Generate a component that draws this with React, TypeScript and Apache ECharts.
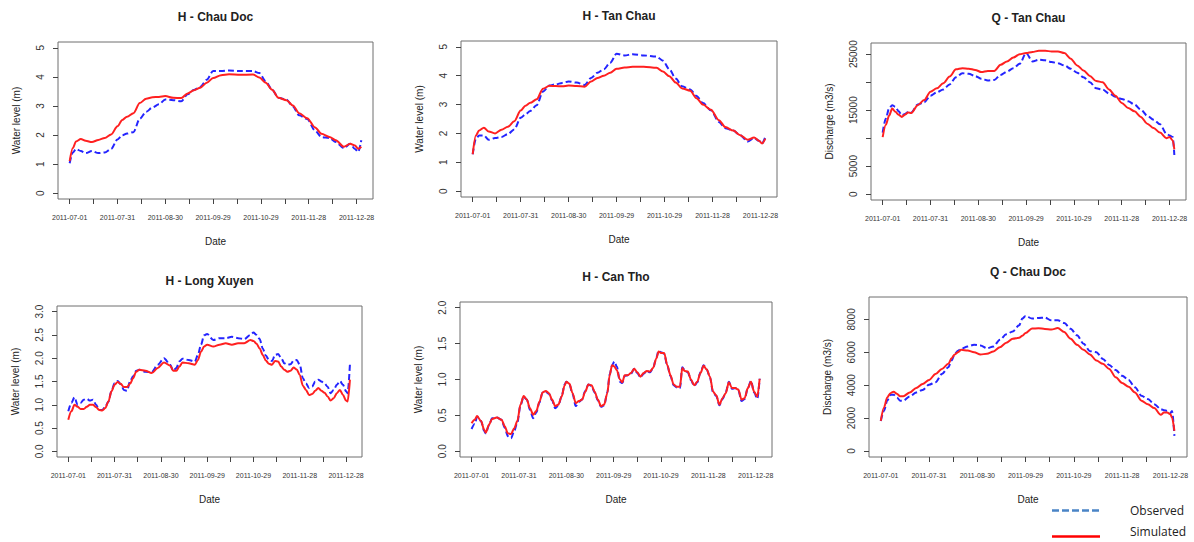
import React, { useEffect, useRef } from "react";
import * as echarts from "echarts";

// ---------- data (days since 2011-07-01) ----------
const START_MS = Date.UTC(2011, 6, 1);
const tickDays = [0, 15, 30, 45, 60, 75, 90, 105, 120, 135, 150, 165, 180];
const labelDays = [0, 30, 60, 90, 120, 150, 180];

const dayGridA = [0, 2, 4, 7, 10, 14, 18, 22, 26, 30, 33, 36, 40, 44, 48, 52, 56, 60, 65, 70, 74, 78, 82, 86, 90, 95, 100, 107, 115, 119, 123, 127, 131, 136, 140, 144, 149, 154, 158, 163, 167, 172, 176, 179, 181, 183];

const hChauDocSim = [1.10, 1.55, 1.78, 1.86, 1.80, 1.76, 1.83, 1.90, 2.02, 2.30, 2.52, 2.63, 2.75, 3.10, 3.25, 3.30, 3.31, 3.34, 3.28, 3.27, 3.43, 3.54, 3.63, 3.80, 3.96, 4.06, 4.09, 4.07, 4.08, 3.98, 3.80, 3.56, 3.28, 3.20, 3.02, 2.75, 2.58, 2.26, 2.04, 1.93, 1.82, 1.60, 1.70, 1.64, 1.53, 1.60];
const hChauDocObs = [1.03, 1.40, 1.52, 1.45, 1.38, 1.45, 1.38, 1.40, 1.52, 1.85, 1.99, 2.05, 2.10, 2.56, 2.80, 2.95, 3.06, 3.22, 3.20, 3.16, 3.40, 3.55, 3.66, 3.90, 4.20, 4.20, 4.22, 4.20, 4.20, 4.13, 3.85, 3.56, 3.28, 3.22, 2.98, 2.68, 2.55, 2.15, 1.93, 1.90, 1.76, 1.55, 1.70, 1.52, 1.42, 1.82];

const hTanChauSim = [1.28, 1.93, 2.10, 2.20, 2.07, 2.00, 2.13, 2.23, 2.42, 2.79, 2.96, 3.06, 3.18, 3.55, 3.65, 3.64, 3.63, 3.66, 3.64, 3.62, 3.80, 3.92, 4.00, 4.10, 4.24, 4.28, 4.31, 4.31, 4.27, 4.14, 3.98, 3.76, 3.56, 3.48, 3.22, 3.00, 2.82, 2.46, 2.22, 2.10, 1.95, 1.78, 1.86, 1.75, 1.65, 1.82];
const hTanChauObs = [1.28, 1.82, 1.93, 1.93, 1.78, 1.84, 1.88, 1.98, 2.14, 2.54, 2.66, 2.78, 2.98, 3.45, 3.66, 3.70, 3.75, 3.80, 3.76, 3.68, 3.92, 4.10, 4.22, 4.45, 4.76, 4.70, 4.74, 4.70, 4.66, 4.52, 4.22, 3.90, 3.63, 3.52, 3.30, 3.05, 2.80, 2.40, 2.18, 2.10, 1.95, 1.72, 1.84, 1.75, 1.65, 1.88];

const dayGridQTC = [0, 2, 4, 6, 8, 10, 12, 14, 16, 18, 22, 26, 30, 34, 38, 42, 46, 50, 54, 58, 62, 66, 70, 74, 78, 82, 86, 90, 94, 98, 102, 106, 110, 114, 118, 122, 126, 130, 134, 138, 142, 146, 150, 154, 158, 162, 166, 170, 174, 178, 180, 182, 183];
const qTanChauSim = [10200, 12400, 14000, 15300, 14700, 14200, 13800, 14200, 14600, 14500, 15900, 16800, 18300, 18900, 19800, 21000, 22300, 22500, 22400, 22200, 21800, 22000, 22000, 23100, 23700, 24400, 25000, 25200, 25400, 25600, 25600, 25500, 25500, 25200, 24200, 23000, 22100, 21100, 20200, 20000, 18700, 17600, 16300, 15400, 14800, 13800, 12600, 11800, 11000, 10000, 10200, 9600, 8000];
const qTanChauObs = [11000, 13500, 15300, 15900, 15600, 14800, 14100, 14300, 14700, 14600, 16000, 16400, 17600, 18200, 18700, 19600, 20900, 21600, 21500, 21100, 20600, 20300, 20400, 21300, 21900, 22500, 23300, 25200, 23700, 24000, 23900, 23600, 23400, 23000, 22400, 21700, 20900, 20000, 18900, 18700, 18000, 17400, 17000, 16600, 16000, 15100, 14000, 13300, 12500, 10800, 10500, 10200, 7000];

const dayGridLX = [0, 2, 4, 6, 8, 10, 12, 14, 16, 18, 20, 22, 24, 26, 28, 30, 32, 34, 36, 38, 40, 42, 44, 46, 50, 54, 58, 62, 66, 68, 70, 72, 74, 78, 82, 84, 86, 88, 90, 94, 98, 102, 106, 110, 114, 118, 120, 122, 124, 126, 128, 130, 132, 134, 136, 138, 140, 142, 144, 146, 148, 150, 152, 154, 156, 158, 160, 162, 164, 166, 168, 170, 172, 174, 176, 178, 180, 181, 182.5];
const hLongXuyenSim = [0.68, 0.86, 1.0, 0.96, 0.91, 0.91, 0.96, 1.0, 1.0, 0.95, 0.89, 0.88, 0.93, 1.07, 1.29, 1.43, 1.49, 1.45, 1.38, 1.38, 1.45, 1.57, 1.71, 1.75, 1.73, 1.68, 1.79, 1.91, 1.84, 1.73, 1.73, 1.82, 1.91, 1.89, 1.86, 1.96, 2.14, 2.25, 2.29, 2.25, 2.29, 2.32, 2.29, 2.32, 2.32, 2.39, 2.37, 2.31, 2.21, 2.07, 1.95, 1.88, 1.86, 1.94, 1.93, 1.82, 1.75, 1.71, 1.73, 1.80, 1.76, 1.64, 1.41, 1.32, 1.21, 1.23, 1.30, 1.36, 1.30, 1.26, 1.18, 1.09, 1.14, 1.25, 1.32, 1.21, 1.09, 1.07, 1.54];
const hLongXuyenObs = [0.86, 1.04, 1.16, 1.0, 1.04, 1.11, 1.13, 1.09, 1.11, 1.0, 0.89, 0.89, 0.96, 1.07, 1.30, 1.46, 1.51, 1.44, 1.32, 1.30, 1.50, 1.61, 1.73, 1.75, 1.71, 1.70, 1.86, 2.0, 1.86, 1.73, 1.79, 1.93, 1.99, 1.96, 1.93, 2.07, 2.29, 2.49, 2.52, 2.39, 2.43, 2.43, 2.46, 2.43, 2.41, 2.50, 2.55, 2.50, 2.41, 2.21, 2.06, 1.96, 1.94, 2.07, 2.09, 2.0, 1.89, 1.86, 1.87, 1.95, 1.96, 1.86, 1.57, 1.46, 1.36, 1.39, 1.50, 1.54, 1.50, 1.46, 1.39, 1.25, 1.32, 1.43, 1.51, 1.43, 1.29, 1.25, 1.87];

const dayGridCT = [0, 2, 3.5, 6, 8, 9, 11, 13, 16, 19, 21, 23, 25, 27, 29, 31, 33, 35, 37, 39, 41, 43, 45, 47, 49, 51, 53, 55, 57, 59, 60, 62, 64, 66, 68, 70, 72, 74, 76, 78, 80, 82, 84, 86, 87.5, 89, 90.5, 92, 94, 95.5, 97, 99, 101, 103, 105, 107, 109, 111, 113, 115, 117, 118.5, 120, 122, 124, 126, 128, 130, 132, 133.5, 135, 137, 139, 141, 143, 145, 147, 149, 151, 153, 155, 157, 159, 161, 163, 165, 167, 169, 171, 173, 175, 177, 179, 181, 182.5];
const hCanThoSim = [0.39, 0.44, 0.49, 0.42, 0.30, 0.26, 0.37, 0.45, 0.47, 0.44, 0.35, 0.25, 0.24, 0.32, 0.42, 0.65, 0.77, 0.72, 0.60, 0.51, 0.56, 0.69, 0.82, 0.84, 0.81, 0.72, 0.63, 0.65, 0.76, 0.92, 0.97, 0.94, 0.81, 0.67, 0.70, 0.72, 0.83, 0.93, 0.92, 0.83, 0.72, 0.63, 0.65, 0.81, 1.06, 1.20, 1.18, 1.13, 1.0, 0.96, 1.06, 1.06, 1.09, 1.15, 1.10, 1.04, 1.09, 1.12, 1.11, 1.16, 1.29, 1.39, 1.37, 1.37, 1.20, 1.06, 0.93, 0.90, 0.90, 1.16, 1.12, 1.11, 1.0, 0.92, 0.97, 1.09, 1.19, 1.14, 1.04, 0.83, 0.78, 0.65, 0.74, 0.81, 0.96, 0.88, 0.88, 0.86, 0.72, 0.74, 0.88, 0.97, 0.83, 0.76, 1.01];
const hCanThoObs = [0.31, 0.38, 0.48, 0.42, 0.28, 0.25, 0.36, 0.46, 0.47, 0.44, 0.33, 0.21, 0.18, 0.28, 0.40, 0.64, 0.76, 0.72, 0.58, 0.46, 0.54, 0.68, 0.82, 0.83, 0.80, 0.71, 0.60, 0.64, 0.76, 0.93, 0.97, 0.93, 0.80, 0.63, 0.69, 0.72, 0.84, 0.93, 0.91, 0.82, 0.71, 0.62, 0.64, 0.82, 1.07, 1.20, 1.25, 1.18, 0.97, 0.95, 1.05, 1.06, 1.08, 1.15, 1.09, 1.03, 1.08, 1.12, 1.10, 1.16, 1.30, 1.40, 1.38, 1.36, 1.19, 1.05, 0.92, 0.89, 0.88, 1.17, 1.13, 1.10, 0.99, 0.91, 0.96, 1.10, 1.20, 1.14, 1.03, 0.82, 0.77, 0.64, 0.73, 0.82, 0.97, 0.87, 0.88, 0.85, 0.70, 0.73, 0.88, 0.98, 0.82, 0.73, 1.01];

const dayGridQCD = [0, 2, 4, 6, 8, 10, 12, 14, 18, 22, 26, 30, 34, 38, 42, 44, 46, 48, 50, 54, 58, 62, 66, 70, 74, 78, 82, 86, 88, 90, 94, 98, 102, 106, 110, 114, 118, 122, 126, 130, 134, 138, 142, 146, 150, 154, 158, 162, 166, 170, 174, 176, 178, 180, 181, 182.5];
const qChauDocSim = [1830, 2650, 3260, 3520, 3600, 3480, 3330, 3330, 3560, 3830, 4070, 4320, 4680, 4990, 5300, 5640, 5870, 6010, 6150, 6110, 6010, 5870, 5910, 6050, 6310, 6580, 6820, 6880, 7000, 7170, 7440, 7460, 7420, 7380, 7470, 7230, 6820, 6460, 6150, 5870, 5500, 5300, 4990, 4480, 4130, 3910, 3560, 3060, 2850, 2610, 2200, 2340, 2340, 2240, 2040, 1220];
const qChauDocObs = [1830, 2440, 3060, 3420, 3420, 3260, 3060, 3060, 3320, 3560, 3710, 4030, 4180, 4680, 5090, 5500, 5910, 6100, 6210, 6350, 6460, 6420, 6250, 6350, 6760, 7090, 7270, 7640, 8050, 8210, 8050, 8090, 8110, 7940, 7940, 7780, 7430, 7030, 6520, 6070, 6010, 5600, 5230, 4930, 4580, 4320, 3870, 3360, 3160, 2850, 2550, 2480, 2440, 2300, 2440, 920];

const ticksH5 = [0, 1, 2, 3, 4, 5];
const ticksQTC = [0, 5000, 10000, 15000, 20000, 25000];
const labelsQTC = [0, 5000, 15000, 25000];
const ticksLX = [0, 0.5, 1, 1.5, 2, 2.5, 3];
const ticksCT = [0, 0.5, 1, 1.5, 2];
const ticksQCD = [0, 2000, 4000, 6000, 8000];

// ---------- layout ----------
const FONT = "'Liberation Sans', Arial, Helvetica, sans-serif";
const OBS_COLOR = "#2424ff";
const SIM_COLOR = "#ff2020";

type Panel = {
  title: string;
  yName: string;
  days: number[];
  obs: number[];
  sim: number[];
  yMin: number;
  yMax: number;
  yTicks: number[];
  yLabels: number[];
  decimals: number;
  box: { left: number; top: number; width: number; height: number };
};

const panels: Panel[] = [
  { title: "H - Chau Doc", yName: "Water level (m)", days: dayGridA, obs: hChauDocObs, sim: hChauDocSim, yMin: -0.2, yMax: 5.2, yTicks: ticksH5, yLabels: ticksH5, decimals: 0, box: { left: 58, top: 42, width: 315, height: 157 } },
  { title: "H - Tan Chau", yName: "Water level (m)", days: dayGridA, obs: hTanChauObs, sim: hTanChauSim, yMin: -0.2, yMax: 5.2, yTicks: ticksH5, yLabels: ticksH5, decimals: 0, box: { left: 461, top: 41, width: 316, height: 156 } },
  { title: "Q - Tan Chau", yName: "Discharge (m3/s)", days: dayGridQTC, obs: qTanChauObs, sim: qTanChauSim, yMin: -1040, yMax: 27000, yTicks: ticksQTC, yLabels: labelsQTC, decimals: 0, box: { left: 871, top: 43, width: 315, height: 157 } },
  { title: "H - Long Xuyen", yName: "Water level (m)", days: dayGridLX, obs: hLongXuyenObs, sim: hLongXuyenSim, yMin: -0.12, yMax: 3.12, yTicks: ticksLX, yLabels: ticksLX, decimals: 1, box: { left: 57, top: 306, width: 305, height: 151 } },
  { title: "H - Can Tho", yName: "Water level (m)", days: dayGridCT, obs: hCanThoObs, sim: hCanThoSim, yMin: -0.08, yMax: 2.08, yTicks: ticksCT, yLabels: ticksCT, decimals: 1, box: { left: 460, top: 302, width: 312, height: 155 } },
  { title: "Q - Chau Doc", yName: "Discharge (m3/s)", days: dayGridQCD, obs: qChauDocObs, sim: qChauDocSim, yMin: -360, yMax: 9360, yTicks: ticksQCD, yLabels: ticksQCD, decimals: 0, box: { left: 869, top: 297, width: 318, height: 160 } },
];

function dayLabel(d: number): string {
  return new Date(START_MS + d * 86400000).toISOString().slice(0, 10);
}

function buildOption() {
  const grid: any[] = [];
  const xAxis: any[] = [];
  const yAxis: any[] = [];
  const series: any[] = [];
  const graphic: any[] = [];

  panels.forEach((p, i) => {
    const b = p.box;
    grid.push({
      left: b.left,
      top: b.top,
      width: b.width,
      height: b.height,
      show: true,
      borderColor: "#6e6e6e",
      borderWidth: 1,
      backgroundColor: "transparent",
      containLabel: false,
      outerBoundsMode: "none",
    });
    xAxis.push({
      type: "value",
      gridIndex: i,
      min: -7.32,
      max: 190.32,
      splitLine: { show: false },
      axisLine: { show: false, onZero: false },
      axisTick: { show: true, length: 5, lineStyle: { color: "#444", width: 1 }, customValues: tickDays },
      axisLabel: {
        customValues: labelDays,
        formatter: (v: number) => dayLabel(v),
        fontSize: 7,
        fontFamily: FONT,
        color: "#333",
        margin: 15,
      },
    });
    yAxis.push({
      type: "value",
      gridIndex: i,
      min: p.yMin,
      max: p.yMax,
      splitLine: { show: false },
      axisLine: { show: false, onZero: false },
      axisTick: { show: true, length: 5, lineStyle: { color: "#444", width: 1 }, customValues: p.yTicks },
      axisLabel: {
        customValues: p.yLabels,
        formatter: (v: number) => v.toFixed(p.decimals),
        rotate: 90,
        fontSize: 10,
        fontFamily: FONT,
        color: "#333",
        margin: 13,
      },
    });
    series.push({
      type: "line",
      name: "Observed",
      xAxisIndex: i,
      yAxisIndex: i,
      data: p.days.map((d, j) => [d, p.obs[j]]),
      showSymbol: false,
      symbol: "none",
      smooth: 0.3,
      smoothMonotone: "x",
      lineStyle: { color: OBS_COLOR, width: 2, type: [6, 3] },
      z: 2,
      silent: true,
    });
    series.push({
      type: "line",
      name: "Simulated",
      xAxisIndex: i,
      yAxisIndex: i,
      data: p.days.map((d, j) => [d, p.sim[j]]),
      showSymbol: false,
      symbol: "none",
      smooth: 0.3,
      smoothMonotone: "x",
      lineStyle: { color: SIM_COLOR, width: 2 },
      z: 3,
      silent: true,
    });

    const cx = b.left + b.width / 2;
    const cy = b.top + b.height / 2;
    graphic.push({
      type: "text",
      x: cx,
      y: b.top - 25,
      style: { text: p.title, fontSize: 12, fontWeight: "bold", fontFamily: FONT, fill: "#222", align: "center", verticalAlign: "middle" },
    });
    graphic.push({
      type: "text",
      x: cx,
      y: b.top + b.height + 42,
      style: { text: "Date", fontSize: 10, fontFamily: FONT, fill: "#222", align: "center", verticalAlign: "middle" },
    });
    graphic.push({
      type: "text",
      x: b.left - 42,
      y: cy,
      rotation: Math.PI / 2,
      style: { text: p.yName, fontSize: 10, fontFamily: FONT, fill: "#222", align: "center", verticalAlign: "middle" },
    });
  });

  // legend
  graphic.push({
    type: "line",
    shape: { x1: 1052, y1: 510.5, x2: 1100, y2: 510.5 },
    style: { stroke: "#4a84c6", lineWidth: 2.5, lineDash: [7, 3] },
  });
  graphic.push({
    type: "line",
    shape: { x1: 1052, y1: 536.5, x2: 1100, y2: 536.5 },
    style: { stroke: "#ff0000", lineWidth: 2.5 },
  });
  graphic.push({
    type: "text",
    x: 1130,
    y: 510.5,
    style: { text: "Observed", fontSize: 12, fontFamily: "'Open Sans', 'Noto Sans', sans-serif", fill: "#222", align: "left", verticalAlign: "middle" },
  });
  graphic.push({
    type: "text",
    x: 1130,
    y: 531.5,
    style: { text: "Simulated", fontSize: 12, fontFamily: "'Open Sans', 'Noto Sans', sans-serif", fill: "#222", align: "left", verticalAlign: "middle" },
  });

  return {
    animation: false,
    backgroundColor: "#ffffff",
    grid,
    xAxis,
    yAxis,
    series,
    graphic,
  };
}

export default function App() {
  const ref = useRef<HTMLDivElement>(null);
  useEffect(() => {
    document.body.style.margin = "0";
    const el = ref.current;
    if (!el) return;
    const chart = echarts.init(el, null, { renderer: "svg" });
    chart.setOption(buildOption() as any);
    return () => {
      chart.dispose();
    };
  }, []);
  return <div ref={ref} style={{ width: 1194, height: 542, background: "#fff" }} />;
}
